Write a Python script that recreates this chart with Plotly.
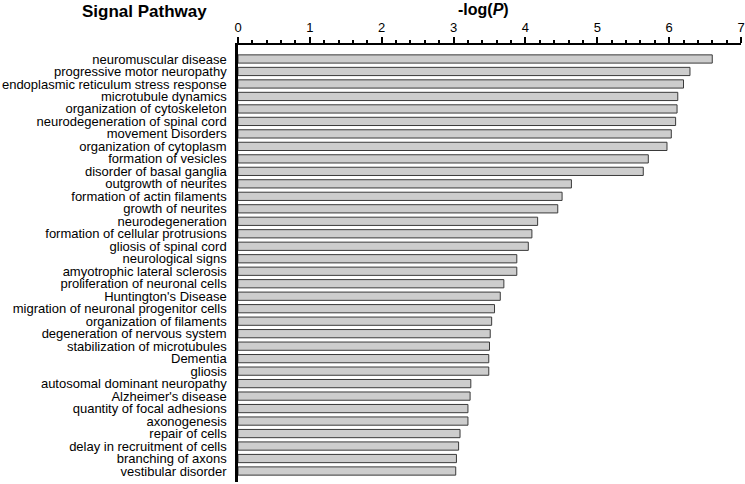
import plotly.graph_objects as go

pathways = [
    "neuromuscular disease",
    "progressive motor neuropathy",
    "endoplasmic reticulum stress response",
    "microtubule dynamics",
    "organization of cytoskeleton",
    "neurodegeneration of spinal cord",
    "movement Disorders",
    "organization of cytoplasm",
    "formation of vesicles",
    "disorder of basal ganglia",
    "outgrowth of neurites",
    "formation of actin filaments",
    "growth of neurites",
    "neurodegeneration",
    "formation of cellular protrusions",
    "gliosis of spinal cord",
    "neurological signs",
    "amyotrophic lateral sclerosis",
    "proliferation of neuronal cells",
    "Huntington's Disease",
    "migration of neuronal progenitor cells",
    "organization of filaments",
    "degeneration of nervous system",
    "stabilization of microtubules",
    "Dementia",
    "gliosis",
    "autosomal dominant neuropathy",
    "Alzheimer's disease",
    "quantity of focal adhesions",
    "axonogenesis",
    "repair of cells",
    "delay in recruitment of cells",
    "branching of axons",
    "vestibular disorder",
]

neg_log_p = [
    6.60, 6.29, 6.20, 6.12, 6.11, 6.09, 6.03, 5.97, 5.71, 5.64,
    4.64, 4.51, 4.45, 4.17, 4.09, 4.04, 3.88, 3.88, 3.70, 3.65,
    3.57, 3.53, 3.51, 3.50, 3.49, 3.49, 3.24, 3.23, 3.20, 3.20,
    3.09, 3.07, 3.04, 3.03,
]

x_ticks = [0, 1, 2, 3, 4, 5, 6, 7]

idx = list(range(len(pathways)))

fig = go.Figure()
fig.add_trace(go.Bar(
    x=neg_log_p,
    y=idx,
    orientation="h",
    width=0.66,
    marker=dict(color="#cdcdcd", line=dict(color="#3a3a3a", width=1)),
    hoverinfo="x+text",
    text=pathways,
    textposition="none",
))

FONT = "Liberation Sans, Arial, Helvetica, sans-serif"

fig.update_layout(
    width=745,
    height=484,
    margin=dict(l=238, r=4, t=45, b=2, autoexpand=False),
    paper_bgcolor="white",
    plot_bgcolor="white",
    showlegend=False,
    font=dict(family=FONT, size=13, color="black"),
    xaxis=dict(
        side="top",
        range=[0, 7],
        tickvals=x_ticks,
        ticktext=[str(t) for t in x_ticks],
        ticks="outside",
        ticklen=6,
        tickwidth=1.5,
        tickcolor="black",
        showline=True,
        linecolor="black",
        linewidth=2,
        showgrid=False,
        zeroline=False,
        automargin=False,
        tickfont=dict(family=FONT, size=13, color="black"),
        minor=dict(dtick=0.2, ticks="outside", ticklen=3.5, tickwidth=1.5,
                   tickcolor="black", showgrid=False),
    ),
    yaxis=dict(
        range=[len(pathways) - 0.12, -1.12],
        tickvals=idx,
        ticktext=pathways,
        ticks="",
        showline=True,
        linecolor="black",
        linewidth=2.5,
        showgrid=False,
        zeroline=False,
        automargin=False,
        tickfont=dict(family=FONT, size=13, color="black"),
        ticklabelstandoff=6,
    ),
    annotations=[
        dict(text="<b>Signal Pathway</b>", xref="paper", yref="paper",
             x=(144 - 238) / 503, y=1 + (45 - 11) / 437, showarrow=False,
             xanchor="center", yanchor="middle",
             font=dict(family=FONT, size=17, color="black")),
        dict(text="<b>-log(<i>P</i>)</b>", xref="paper", yref="paper",
             x=(483 - 238) / 503, y=1 + (45 - 10) / 437, showarrow=False,
             xanchor="center", yanchor="middle",
             font=dict(family=FONT, size=16, color="black")),
    ],
)

fig.write_html(
    "out.html",
    config={"displayModeBar": False},
    post_script="document.body.style.margin='0';document.body.style.padding='0';",
)
